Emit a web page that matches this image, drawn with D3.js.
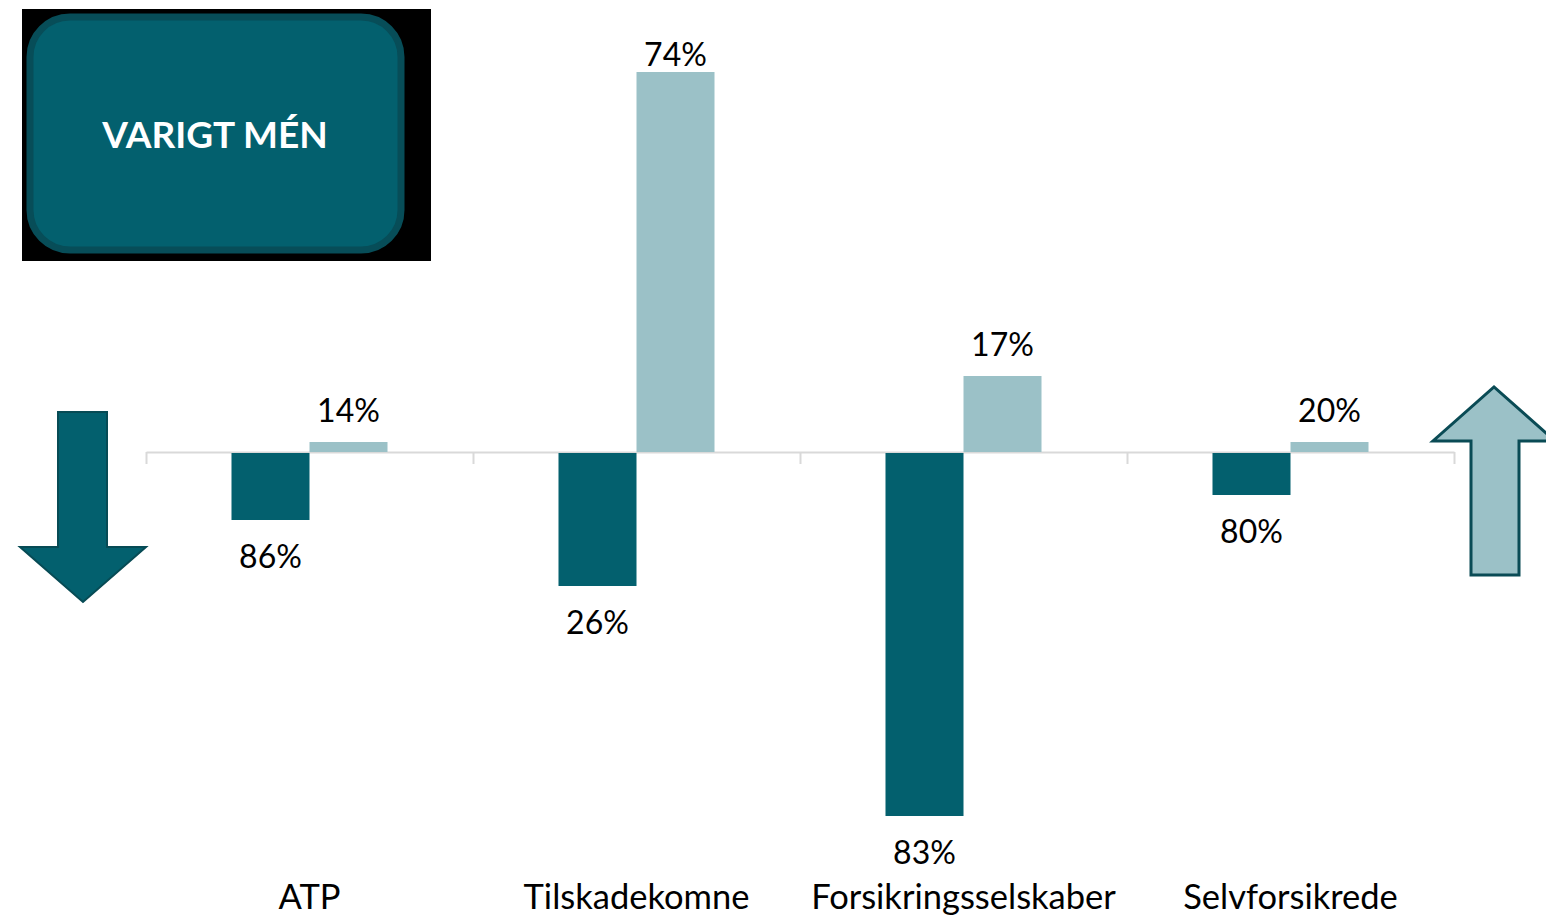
<!DOCTYPE html>
<html>
<head>
<meta charset="utf-8">
<script src="https://cdn.jsdelivr.net/npm/d3@7"></script>
<style>
  body { margin: 0; background: #fff; }
  svg { display: block; font-family: Lato, "Open Sans", sans-serif; }
</style>
</head>
<body>
<svg id="chart" width="1546" height="915"></svg>
<script>
// data
const categories = ["ATP", "Tilskadekomne", "Forsikringsselskaber", "Selvforsikrede"];
const series = ["nedsat", "forhøjet"];
const nedsat = [67, 133, 363, 42];        // drawn below the axis
const forhoejet = [10, 380, 76, 10];      // drawn above the axis
const nedsatLabels = ["86%", "26%", "83%", "80%"];
const forhoejetLabels = ["14%", "74%", "17%", "20%"];
const title = "VARIGT MÉN";

const dark = "#03606e", light = "#9bc1c7";

const svg = d3.select("#chart");
const margin = {left: 146, right: 92, top: 52, bottom: 63};
const width = 1546 - margin.left - margin.right;

const x0 = d3.scaleBand().domain(categories).range([margin.left, margin.left + width]);
const x1 = d3.scaleBand().domain(series).range([0, x0.bandwidth()]).paddingInner(0).paddingOuter(1.096);
const y = d3.scaleLinear().domain([-400, 400]).range([852, 52]);

const rows = categories.map((c, i) => ({
  cat: c,
  bars: [
    {key: "nedsat", v: -nedsat[i], label: nedsatLabels[i]},
    {key: "forhøjet", v: forhoejet[i], label: forhoejetLabels[i]}
  ]
}));

// axis with ticks on the category edges
const xEdge = d3.scaleLinear().domain([0, categories.length]).range([margin.left, margin.left + width]);
const axis = svg.append("g")
  .attr("transform", "translate(0," + y(0) + ")")
  .call(d3.axisBottom(xEdge).tickValues(d3.range(categories.length + 1)).tickFormat("").tickSize(12).tickSizeOuter(0));
axis.select(".domain").attr("stroke", "#d9d9d9").attr("stroke-width", 2);
axis.selectAll(".tick line").attr("stroke", "#d9d9d9").attr("stroke-width", 2);

const groups = svg.append("g").selectAll("g")
  .data(rows).enter().append("g")
  .attr("transform", d => "translate(" + x0(d.cat) + ",0)");

groups.selectAll("rect")
  .data(d => d.bars).enter().append("rect")
  .attr("x", d => x1(d.key))
  .attr("width", x1.bandwidth())
  .attr("y", d => d.v > 0 ? y(d.v) : y(0) + 1)
  .attr("height", d => Math.abs(y(d.v) - y(0)))
  .attr("fill", d => d.key === "nedsat" ? dark : light);

groups.selectAll("text")
  .data(d => d.bars).enter().append("text")
  .attr("x", d => x1(d.key) + x1.bandwidth() / 2)
  .attr("y", d => d.v > 0 ? Math.max(y(d.v) - 20, y.range()[1] + 14) : y(d.v) + 49)
  .attr("text-anchor", "middle")
  .attr("font-size", 32)
  .attr("fill", "#000")
  .text(d => d.label);

svg.append("g").selectAll("text")
  .data(categories).enter().append("text")
  .attr("x", d => x0(d) + x0.bandwidth() / 2)
  .attr("y", 909)
  .attr("text-anchor", "middle")
  .attr("font-size", 34.5)
  .attr("fill", "#000")
  .text(d => d);

// title box
svg.append("rect").attr("x", 22).attr("y", 9).attr("width", 409).attr("height", 252).attr("fill", "#000");
svg.append("rect").attr("x", 30).attr("y", 17).attr("width", 371).attr("height", 233)
  .attr("rx", 40).attr("fill", dark).attr("stroke", "#074d58").attr("stroke-width", 7);
svg.append("text").attr("x", 215).attr("y", 148).attr("text-anchor", "middle")
  .attr("font-size", 37).attr("font-weight", "bold").attr("fill", "#fff").text(title);

// arrows
const line = d3.line();
svg.append("path")
  .attr("d", line([[58, 412], [107, 412], [107, 547], [146, 547], [83, 602], [20, 547], [58, 547]]) + "Z")
  .attr("fill", dark).attr("stroke", "#074b55").attr("stroke-width", 2);
svg.append("path")
  .attr("d", line([[1471, 575], [1519, 575], [1519, 441], [1555, 441], [1494, 387], [1433, 441], [1471, 441]]) + "Z")
  .attr("fill", light).attr("stroke", "#0a4b55").attr("stroke-width", 3);
</script>
</body>
</html>
